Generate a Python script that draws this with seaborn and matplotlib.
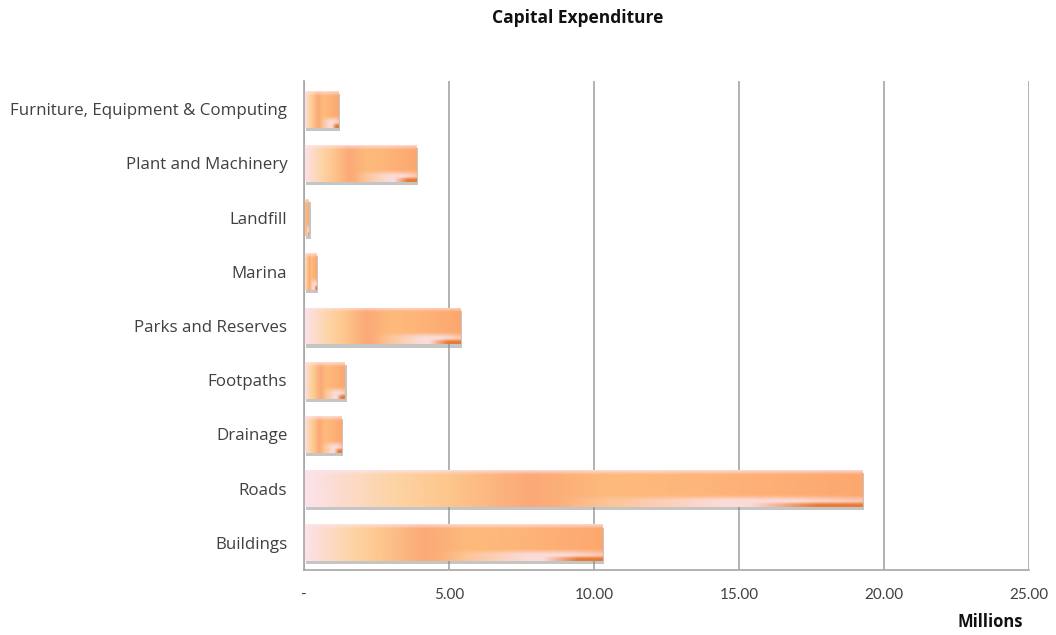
import numpy as np
import pandas as pd
import matplotlib
matplotlib.use("Agg")
import matplotlib.pyplot as plt
import matplotlib.patheffects as pe
from matplotlib.colors import to_rgb
import seaborn as sns

# Capital expenditure by asset class, in millions
categories = [
    "Furniture, Equipment & Computing",
    "Plant and Machinery",
    "Landfill",
    "Marina",
    "Parks and Reserves",
    "Footpaths",
    "Drainage",
    "Roads",
    "Buildings",
]
expenditure = [1.18, 3.89, 0.17, 0.44, 5.38, 1.41, 1.30, 19.26, 10.29]

x_ticks = [0, 5, 10, 15, 20, 25]
x_tick_labels = ["-", "5.00", "10.00", "15.00", "20.00", "25.00"]

df = pd.DataFrame({"Category": categories, "Expenditure": expenditure})

sns.set_style("white")
plt.rcParams["font.family"] = ["Open Sans", "DejaVu Sans"]

fig = plt.figure(figsize=(10.56, 6.35), dpi=100)
ax = fig.add_axes([304 / 1056, 1 - 570 / 635, (1029 - 304) / 1056, (570 - 81) / 635])

sns.barplot(data=df, x="Expenditure", y="Category", orient="h",
            color="#FBA875", width=0.68, linewidth=0, edgecolor="none",
            ax=ax, zorder=2)


def gradient_fill(nx=240, ny=60):
    """Peach fill: pink at the left, salmon through the body, pale band low right."""
    u = np.linspace(0, 1, nx)
    v = np.linspace(0, 1, ny)[:, None]
    stops = [0.0, 0.06, 0.16, 0.26, 0.40, 0.55, 0.72, 1.0]
    cols = np.array([to_rgb(c) for c in
                     ["#FCE3EC", "#FCDCD0", "#FDD4A4", "#FDC68C", "#FBA977",
                      "#FDBA7B", "#FEB57A", "#FCA76E"]])
    base = np.stack([np.interp(u, stops, cols[:, k]) for k in range(3)], axis=-1)
    img = np.repeat(base[None, :, :], ny, axis=0)

    def blend(img, color, t):
        c = np.array(to_rgb(color))
        t = t[..., None]
        return img * (1 - t) + c * t

    top = np.clip(1 - v / 0.12, 0, 1) * 0.75 * np.ones_like(u)
    img = blend(img, "#FDE5EE", top)
    high = (np.clip((v - 0.68) / 0.14, 0, 1)
            * np.clip((u - 0.45) / 0.30, 0, 1)
            * (1 - 0.4 * np.clip((u - 0.88) / 0.12, 0, 1)))
    img = blend(img, "#FBE3E9", high * 0.85)
    corner = np.clip((v - 0.86) / 0.08, 0, 1) * np.clip((u - 0.80) / 0.12, 0, 1)
    img = blend(img, "#E97A34", corner)
    return np.clip(img, 0, 1)


fill = gradient_fill()
for patch in ax.patches:
    x0, y0 = patch.get_x(), patch.get_y()
    w, h = patch.get_width(), patch.get_height()
    patch.set_path_effects([
        pe.SimplePatchShadow(offset=(1.2, -2.2), shadow_rgbFace="#8c8c8c", alpha=0.5),
        pe.Normal(),
    ])
    im = ax.imshow(fill, extent=(x0, x0 + w, y0 + h, y0), origin="upper",
                   aspect="auto", interpolation="bilinear", zorder=2.5)
    im.set_clip_path(patch)

ax.set_xlim(0, 25)
ax.set_ylim(8.5, -0.52)
ax.set_aspect("auto")

ax.set_xticks(x_ticks)
ax.set_xticklabels(x_tick_labels, family=["Lato", "DejaVu Sans"])
ax.xaxis.grid(True, color="#a6a6a6", linewidth=1.2)
ax.yaxis.grid(False)
ax.set_axisbelow(True)

for side in ["top", "right"]:
    ax.spines[side].set_visible(False)
for side in ["left", "bottom"]:
    ax.spines[side].set_color("#a6a6a6")
    ax.spines[side].set_linewidth(1.2)

ax.tick_params(axis="x", length=0, pad=13, labelsize=11, labelcolor="#404040")
ax.tick_params(axis="y", length=0, pad=12, labelsize=12.2, labelcolor="#404040")
ax.set_xlabel("")
ax.set_ylabel("")

fig.text(578 / 1056, 1 - 18 / 635, "Capital Expenditure", ha="center", va="center",
         fontsize=12.5, fontweight="bold", color="#111111")
fig.text(990 / 1056, 1 - 622 / 635, "Millions", ha="center", va="center",
         fontsize=12, fontweight="bold", color="#111111")

fig.savefig("out.png", dpi=100)
